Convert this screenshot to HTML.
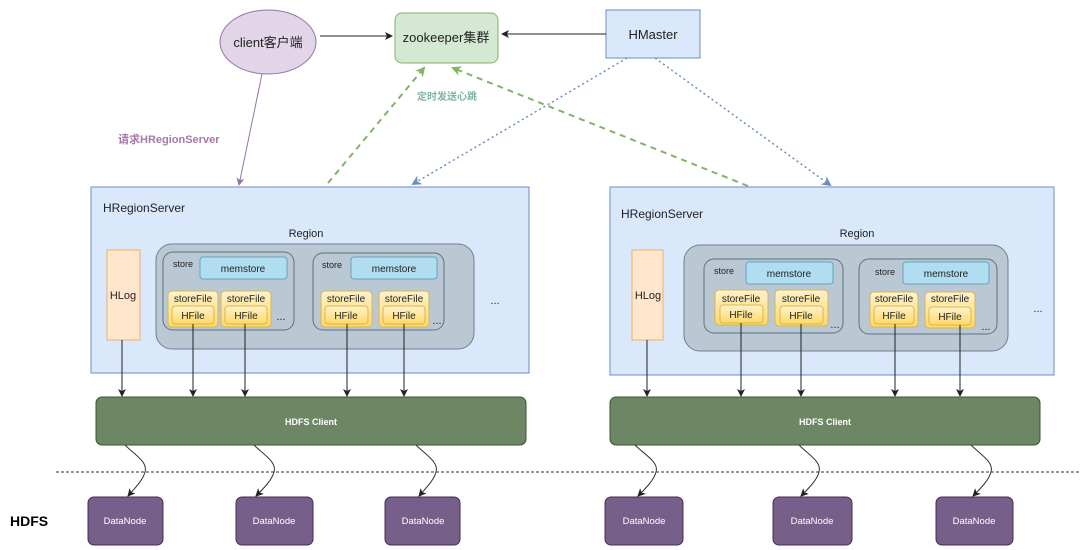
<!DOCTYPE html>
<html><head><meta charset="utf-8"><style>
html,body{margin:0;padding:0;background:#fff;width:1080px;height:550px;overflow:hidden}
svg text{font-family:"Liberation Sans","Noto Sans CJK SC",sans-serif}
</style></head><body>
<svg width="1080" height="550" viewBox="0 0 1080 550" xmlns="http://www.w3.org/2000/svg">
<defs>
<marker id="ab" markerWidth="8" markerHeight="8" refX="7" refY="4" orient="auto" markerUnits="userSpaceOnUse"><path d="M0,0 L8,4 L0,8 L2,4 z" fill="#222"/></marker>
<marker id="ap" markerWidth="8" markerHeight="8" refX="7" refY="4" orient="auto" markerUnits="userSpaceOnUse"><path d="M0,0 L8,4 L0,8 L2,4 z" fill="#9673a6"/></marker>
<marker id="ag" markerWidth="10" markerHeight="10" refX="8" refY="5" orient="auto" markerUnits="userSpaceOnUse"><path d="M0,0 L10,5 L0,10 L3,5 z" fill="#82b366"/></marker>
<marker id="abl" markerWidth="10" markerHeight="10" refX="8" refY="5" orient="auto" markerUnits="userSpaceOnUse"><path d="M0,0 L10,5 L0,10 L3,5 z" fill="#6c8ebf"/></marker>
<linearGradient id="yf" x1="0" y1="0" x2="0" y2="1"><stop offset="0" stop-color="#fff2cc"/><stop offset="1" stop-color="#ffd966"/></linearGradient>
</defs>

<ellipse cx="268" cy="42" rx="48" ry="32" fill="#e1d5e7" stroke="#9673a6"/>
<text x="268" y="47" font-size="13" text-anchor="middle" fill="#222">client客户端</text>
<rect x="395" y="13" width="103" height="50" rx="7" fill="#d5e8d4" stroke="#82b366"/>
<text x="446" y="42" font-size="13" text-anchor="middle" fill="#222">zookeeper集群</text>
<rect x="606" y="10" width="94" height="48" fill="#dae8fc" stroke="#6c8ebf"/>
<text x="653" y="39" font-size="13" text-anchor="middle" fill="#222">HMaster</text>
<line x1="320" y1="36" x2="392" y2="36" stroke="#222" marker-end="url(#ab)"/>
<line x1="606" y1="34" x2="502" y2="34" stroke="#222" marker-end="url(#ab)"/>
<line x1="262" y1="74" x2="239" y2="185" stroke="#9673a6" marker-end="url(#ap)"/>
<text x="118" y="143" font-size="11" font-weight="bold" fill="#a679a6">请求HRegionServer</text>
<line x1="328" y1="183" x2="424" y2="68" stroke="#82b366" stroke-width="2" stroke-dasharray="6,5" marker-end="url(#ag)"/>
<line x1="748" y1="186" x2="453" y2="68" stroke="#82b366" stroke-width="2" stroke-dasharray="6,5" marker-end="url(#ag)"/>
<text x="447" y="100" font-size="10" font-weight="bold" text-anchor="middle" fill="#7fb3a6">定时发送心跳</text>
<line x1="627" y1="58" x2="413" y2="184" stroke="#6c8ebf" stroke-width="1.5" stroke-dasharray="2,3" marker-end="url(#abl)"/>
<line x1="655" y1="58" x2="830" y2="185" stroke="#6c8ebf" stroke-width="1.5" stroke-dasharray="2,3" marker-end="url(#abl)"/>

<rect x="91" y="187" width="438" height="186" fill="#dae8fc" stroke="#6c8ebf"/>
<text x="103" y="212" font-size="12" fill="#222">HRegionServer</text>
<text x="306" y="237" font-size="11" text-anchor="middle" fill="#222">Region</text>
<rect x="107" y="250" width="33" height="90" fill="#ffe6cc" stroke="#f0b060"/>
<text x="123" y="299" font-size="11" text-anchor="middle" fill="#222">HLog</text>
<rect x="156" y="244" width="318" height="105" rx="16" fill="#bac8d3" stroke="#6f8090"/>
<rect x="163" y="252" width="131" height="78" rx="10" fill="#bac8d3" stroke="#5f7080"/>
<text x="173" y="267" font-size="9" fill="#222">store</text>
<rect x="200" y="257" width="87" height="22" rx="3" fill="#b1ddf0" stroke="#10739e" stroke-opacity=".5"/>
<text x="243" y="272" font-size="10" text-anchor="middle" fill="#222">memstore</text>
<rect x="168" y="291" width="50" height="36" rx="4" fill="url(#yf)" stroke="#d6b656"/>
<text x="193" y="302" font-size="10" text-anchor="middle" fill="#222">storeFile</text>
<rect x="172" y="306" width="42" height="18" rx="3" fill="url(#yf)" stroke="#d6b656"/>
<text x="193" y="319" font-size="10" text-anchor="middle" fill="#222">HFile</text>
<rect x="221" y="291" width="50" height="36" rx="4" fill="url(#yf)" stroke="#d6b656"/>
<text x="246" y="302" font-size="10" text-anchor="middle" fill="#222">storeFile</text>
<rect x="225" y="306" width="42" height="18" rx="3" fill="url(#yf)" stroke="#d6b656"/>
<text x="246" y="319" font-size="10" text-anchor="middle" fill="#222">HFile</text>
<text x="281" y="320" font-size="11" text-anchor="middle" fill="#222">...</text>
<rect x="313" y="253" width="131" height="77" rx="10" fill="#bac8d3" stroke="#5f7080"/>
<text x="322" y="268" font-size="9" fill="#222">store</text>
<rect x="351" y="257" width="86" height="22" rx="3" fill="#b1ddf0" stroke="#10739e" stroke-opacity=".5"/>
<text x="394" y="272" font-size="10" text-anchor="middle" fill="#222">memstore</text>
<rect x="321" y="291" width="51" height="36" rx="4" fill="url(#yf)" stroke="#d6b656"/>
<text x="346" y="302" font-size="10" text-anchor="middle" fill="#222">storeFile</text>
<rect x="325" y="306" width="43" height="18" rx="3" fill="url(#yf)" stroke="#d6b656"/>
<text x="346" y="319" font-size="10" text-anchor="middle" fill="#222">HFile</text>
<rect x="379" y="291" width="50" height="36" rx="4" fill="url(#yf)" stroke="#d6b656"/>
<text x="404" y="302" font-size="10" text-anchor="middle" fill="#222">storeFile</text>
<rect x="383" y="306" width="42" height="18" rx="3" fill="url(#yf)" stroke="#d6b656"/>
<text x="404" y="319" font-size="10" text-anchor="middle" fill="#222">HFile</text>
<text x="437" y="324" font-size="11" text-anchor="middle" fill="#222">...</text>
<text x="495" y="304" font-size="11" text-anchor="middle" fill="#222">...</text>

<rect x="610" y="187" width="444" height="188" fill="#dae8fc" stroke="#6c8ebf"/>
<text x="621" y="218" font-size="12" fill="#222">HRegionServer</text>
<text x="857" y="237" font-size="11" text-anchor="middle" fill="#222">Region</text>
<rect x="632" y="250" width="31" height="90" fill="#ffe6cc" stroke="#f0b060"/>
<text x="648" y="299" font-size="11" text-anchor="middle" fill="#222">HLog</text>
<rect x="684" y="245" width="324" height="106" rx="16" fill="#bac8d3" stroke="#6f8090"/>
<rect x="704" y="259" width="139" height="74" rx="10" fill="#bac8d3" stroke="#5f7080"/>
<text x="714" y="274" font-size="9" fill="#222">store</text>
<rect x="746" y="262" width="87" height="22" rx="3" fill="#b1ddf0" stroke="#10739e" stroke-opacity=".5"/>
<text x="789" y="277" font-size="10" text-anchor="middle" fill="#222">memstore</text>
<rect x="715" y="290" width="53" height="35" rx="4" fill="url(#yf)" stroke="#d6b656"/>
<text x="741" y="302" font-size="10" text-anchor="middle" fill="#222">storeFile</text>
<rect x="720" y="305" width="43" height="18" rx="3" fill="url(#yf)" stroke="#d6b656"/>
<text x="741" y="318" font-size="10" text-anchor="middle" fill="#222">HFile</text>
<rect x="775" y="290" width="53" height="36" rx="4" fill="url(#yf)" stroke="#d6b656"/>
<text x="801" y="302" font-size="10" text-anchor="middle" fill="#222">storeFile</text>
<rect x="780" y="306" width="43" height="18" rx="3" fill="url(#yf)" stroke="#d6b656"/>
<text x="801" y="319" font-size="10" text-anchor="middle" fill="#222">HFile</text>
<text x="835" y="328" font-size="11" text-anchor="middle" fill="#222">...</text>
<rect x="859" y="259" width="138" height="75" rx="10" fill="#bac8d3" stroke="#5f7080"/>
<text x="875" y="275" font-size="9" fill="#222">store</text>
<rect x="903" y="262" width="86" height="22" rx="3" fill="#b1ddf0" stroke="#10739e" stroke-opacity=".5"/>
<text x="946" y="277" font-size="10" text-anchor="middle" fill="#222">memstore</text>
<rect x="870" y="292" width="48" height="35" rx="4" fill="url(#yf)" stroke="#d6b656"/>
<text x="894" y="302" font-size="10" text-anchor="middle" fill="#222">storeFile</text>
<rect x="874" y="306" width="40" height="18" rx="3" fill="url(#yf)" stroke="#d6b656"/>
<text x="894" y="319" font-size="10" text-anchor="middle" fill="#222">HFile</text>
<rect x="925" y="292" width="50" height="36" rx="4" fill="url(#yf)" stroke="#d6b656"/>
<text x="950" y="302" font-size="10" text-anchor="middle" fill="#222">storeFile</text>
<rect x="929" y="307" width="42" height="18" rx="3" fill="url(#yf)" stroke="#d6b656"/>
<text x="950" y="320" font-size="10" text-anchor="middle" fill="#222">HFile</text>
<text x="986" y="330" font-size="11" text-anchor="middle" fill="#222">...</text>
<text x="1038" y="312" font-size="11" text-anchor="middle" fill="#222">...</text>

<g stroke="#222" stroke-width="1">
<line x1="122" y1="340" x2="122" y2="396" marker-end="url(#ab)"/>
<line x1="193" y1="324" x2="193" y2="396" marker-end="url(#ab)"/>
<line x1="245" y1="324" x2="245" y2="396" marker-end="url(#ab)"/>
<line x1="347" y1="324" x2="347" y2="396" marker-end="url(#ab)"/>
<line x1="404" y1="324" x2="404" y2="396" marker-end="url(#ab)"/>
<line x1="647" y1="340" x2="647" y2="396" marker-end="url(#ab)"/>
<line x1="741" y1="323" x2="741" y2="396" marker-end="url(#ab)"/>
<line x1="801" y1="324" x2="801" y2="396" marker-end="url(#ab)"/>
<line x1="895" y1="324" x2="895" y2="396" marker-end="url(#ab)"/>
<line x1="960" y1="325" x2="960" y2="396" marker-end="url(#ab)"/>
</g>

<rect x="96" y="397" width="430" height="48" rx="6" fill="#6d8764" stroke="#3a5431"/>
<text x="311" y="425" font-size="9" font-weight="bold" text-anchor="middle" fill="#fff">HDFS Client</text>
<rect x="610" y="397" width="430" height="48" rx="6" fill="#6d8764" stroke="#3a5431"/>
<text x="825" y="425" font-size="9" font-weight="bold" text-anchor="middle" fill="#fff">HDFS Client</text>

<line x1="56" y1="472" x2="1080" y2="472" stroke="#333" stroke-dasharray="3,2"/>

<g fill="none" stroke="#333" stroke-width="1">
<path d="M125,445 C135,455 148,462 145,472 C143,480 135,488 128,496" marker-end="url(#ab)"/>
<path d="M254,445 C264,455 277,462 274,472 C272,480 264,488 256,496" marker-end="url(#ab)"/>
<path d="M416,445 C426,455 439,462 436,472 C434,480 426,488 419,496" marker-end="url(#ab)"/>
<path d="M635,445 C645,455 659,462 656,472 C654,480 646,488 638,496" marker-end="url(#ab)"/>
<path d="M799,445 C809,455 822,462 819,472 C817,480 809,488 801,496" marker-end="url(#ab)"/>
<path d="M971,445 C981,455 994,462 991,472 C989,480 981,488 973,496" marker-end="url(#ab)"/>
</g>

<g fill="#76608a" stroke="#432d57">
<rect x="88" y="497" width="75" height="48" rx="6"/>
<rect x="236" y="497" width="77" height="48" rx="6"/>
<rect x="385" y="497" width="75" height="48" rx="6"/>
<rect x="605" y="497" width="78" height="48" rx="6"/>
<rect x="773" y="497" width="79" height="48" rx="6"/>
<rect x="936" y="497" width="77" height="48" rx="6"/>
</g>
<g font-size="9.5" text-anchor="middle" fill="#fff">
<text x="125" y="524">DataNode</text>
<text x="274" y="524">DataNode</text>
<text x="423" y="524">DataNode</text>
<text x="644" y="524">DataNode</text>
<text x="812" y="524">DataNode</text>
<text x="974" y="524">DataNode</text>
</g>
<text x="10" y="526" font-size="14" font-weight="bold" fill="#000">HDFS</text>
</svg>
</body></html>
